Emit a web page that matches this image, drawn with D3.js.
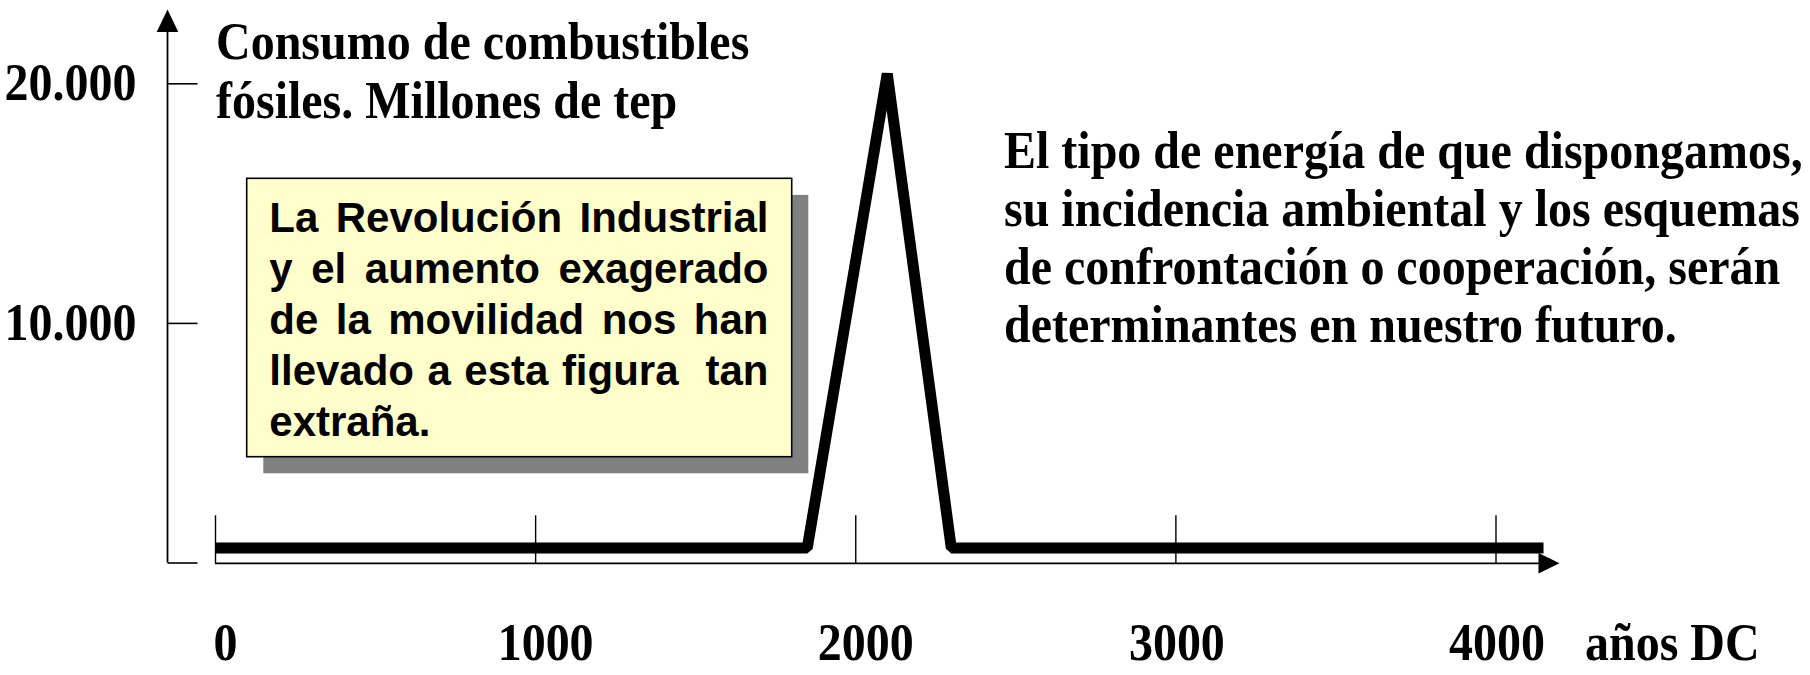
<!DOCTYPE html>
<html>
<head>
<meta charset="utf-8">
<script src="https://cdn.jsdelivr.net/npm/d3@7"></script>
<style>
  html, body { margin: 0; padding: 0; background: #ffffff; }
  svg { display: block; }
</style>
</head>
<body>
<svg id="chart" width="1810" height="675"></svg>
<script>
// ---- data ----
const years = [0, 1850, 2100, 2300, 4150];
const consumo = [600, 600, 20400, 600, 600];
const xTicks = [0, 1000, 2000, 3000, 4000];
const yTicks = [0, 10000, 20000];
const yTickLabels = ["", "10.000", "20.000"];
const xUnitLabel = "años DC";
const titleLines = ["Consumo de combustibles", "fósiles. Millones de tep"];
const noteLines = [
  "El tipo de energía de que dispongamos,",
  "su incidencia ambiental y los esquemas",
  "de confrontación o cooperación, serán",
  "determinantes en nuestro futuro."
];
const boxLines = [
  "La Revolución Industrial",
  "y el aumento exagerado",
  "de la movilidad nos han",
  "llevado a esta figura  tan",
  "extraña."
];

// ---- layout ----
const svg = d3.select("#chart");
const serif = "'Liberation Serif', 'Times New Roman', serif";
const sans = "'Liberation Sans', Arial, sans-serif";
const stretch = 1.12; // serif text in the reference is slightly tall

const x = d3.scaleLinear().domain([0, 4000]).range([215, 1495.5]);
const y = d3.scaleLinear().domain([0, 20000]).range([562.5, 83.3]);
const axisY = 167.5;

function serifText(sel) {
  return sel.attr("font-family", serif).attr("font-weight", "bold")
    .attr("font-size", 48).attr("fill", "#000");
}

// ---- y axis ----
const yAxis = d3.axisLeft(y)
  .tickValues(yTicks)
  .tickSizeInner(-30)
  .tickSizeOuter(0)
  .tickPadding(31)
  .tickFormat((d, i) => yTickLabels[i]);
const gy = svg.append("g").attr("transform", `translate(${axisY},0)`).call(yAxis);
gy.select(".domain").remove();
gy.selectAll(".tick line").attr("stroke", "#000").attr("stroke-width", 1.6);
serifText(gy.selectAll(".tick text"))
  .attr("x", null).attr("dy", null).attr("y", null)
  .attr("transform", `translate(-31,16.5) scale(1,${stretch})`);
const yTip = y(23080);
svg.append("line")
  .attr("x1", axisY).attr("x2", axisY)
  .attr("y1", y(0)).attr("y2", yTip + 20)
  .attr("stroke", "#000").attr("stroke-width", 1.8);
svg.append("path")
  .attr("d", `M${axisY},${yTip} L${axisY - 10.8},${yTip + 22.5} L${axisY + 10.8},${yTip + 22.5} Z`)
  .attr("fill", "#000");

// ---- x axis ----
const xAxisY = 563.3;
const xAxis = d3.axisBottom(x)
  .tickValues(xTicks)
  .tickSizeInner(-48)
  .tickSizeOuter(0)
  .tickFormat(d3.format("d"));
const gx = svg.append("g").attr("transform", `translate(0,${xAxisY})`).call(xAxis);
gx.select(".domain").remove();
gx.selectAll(".tick line").attr("stroke", "#000").attr("stroke-width", 1.4);
serifText(gx.selectAll(".tick text"))
  .attr("y", null).attr("dy", null)
  .attr("transform", d => `translate(${d < 2500 ? 10 : 1},97) scale(1,${stretch})`);
const xTipX = x(4200);
svg.append("line")
  .attr("x1", x(0)).attr("x2", xTipX - 18)
  .attr("y1", xAxisY).attr("y2", xAxisY)
  .attr("stroke", "#000").attr("stroke-width", 1.8);
svg.append("path")
  .attr("d", `M${xTipX},${xAxisY} L${xTipX - 21},${xAxisY - 10.3} L${xTipX - 21},${xAxisY + 10.3} Z`)
  .attr("fill", "#000");
serifText(svg.append("text"))
  .attr("transform", `translate(1585,660) scale(1,${stretch})`)
  .text(xUnitLabel);

// ---- data line ----
const data = years.map((yr, i) => ({ yr, v: consumo[i] }));
const line = d3.line().x(d => x(d.yr)).y(d => y(d.v));
svg.append("path")
  .datum(data)
  .attr("d", line)
  .attr("fill", "none")
  .attr("stroke", "#000")
  .attr("stroke-width", 11)
  .attr("stroke-linejoin", "bevel")
  .attr("stroke-linecap", "butt");

// ---- title (y axis caption) ----
titleLines.forEach((t, i) => {
  serifText(svg.append("text"))
    .attr("transform", `translate(216,${59 + i * 59}) scale(1,${stretch})`)
    .text(t);
});

// ---- right note ----
noteLines.forEach((t, i) => {
  serifText(svg.append("text"))
    .attr("transform", `translate(1004,${167.5 + i * 58.3}) scale(1,${stretch})`)
    .text(t);
});

// ---- yellow annotation box ----
const box = { x: 246.7, y: 178.3, w: 545, h: 278.4, off: 16.6 };
svg.append("rect")
  .attr("x", box.x + box.off).attr("y", box.y + box.off)
  .attr("width", box.w).attr("height", box.h)
  .attr("fill", "#808080");
svg.append("rect")
  .attr("x", box.x).attr("y", box.y)
  .attr("width", box.w).attr("height", box.h)
  .attr("fill", "#FFFFCC").attr("stroke", "#000").attr("stroke-width", 1.6);

const textLeft = 269.3, textRight = 768.5, fs = 42;
const measure = svg.append("text")
  .attr("font-family", sans).attr("font-weight", "bold").attr("font-size", fs)
  .attr("visibility", "hidden");
function w(str) { measure.text(str); return measure.node().getComputedTextLength(); }

const boxText = svg.append("text")
  .attr("font-family", sans).attr("font-weight", "bold").attr("font-size", fs)
  .attr("fill", "#000");
boxLines.forEach((ln, i) => {
  const by = 231.5 + i * 51;
  const tokens = ln.split(" ");
  const last = i === boxLines.length - 1;
  if (last || tokens.length < 2) {
    boxText.append("tspan").attr("x", textLeft).attr("y", by).text(ln);
    return;
  }
  const widths = tokens.map(t => (t ? w(t) : 0));
  const sum = d3.sum(widths);
  const gap = (textRight - textLeft - sum) / (tokens.length - 1);
  let cx = textLeft;
  tokens.forEach((t, k) => {
    if (t) boxText.append("tspan").attr("x", cx).attr("y", by).text(t);
    cx += widths[k] + gap;
  });
});
measure.remove();
</script>
</body>
</html>
